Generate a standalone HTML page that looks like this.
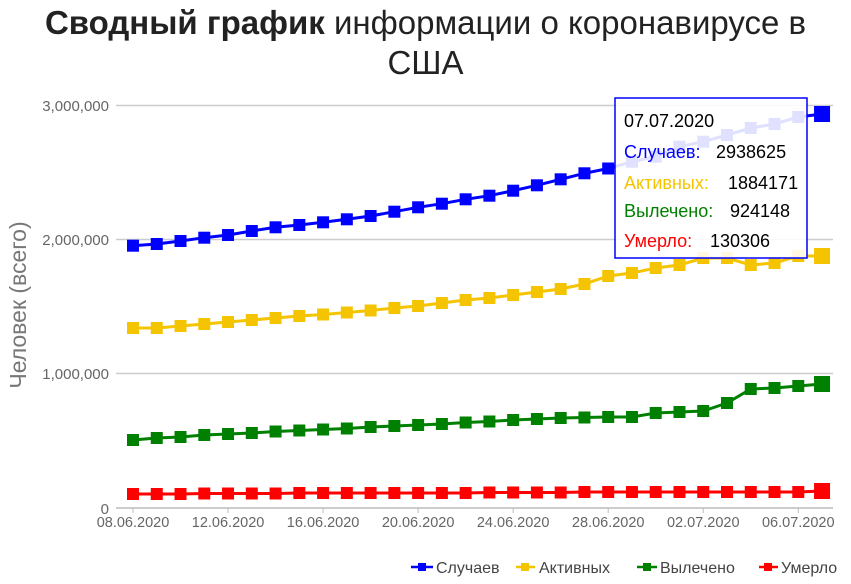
<!DOCTYPE html>
<html><head><meta charset="utf-8"><style>
body{margin:0;background:#fff;width:851px;height:579px;overflow:hidden;font-family:"Liberation Sans","DejaVu Sans",sans-serif}
</style></head><body>
<svg width="851" height="579" xmlns="http://www.w3.org/2000/svg" font-family="Liberation Sans, DejaVu Sans, sans-serif">
<text x="425.5" y="34" text-anchor="middle" font-size="33" fill="#222"><tspan font-weight="bold">Сводный график</tspan> информации о коронавирусе в</text>
<text x="425.5" y="74" text-anchor="middle" font-size="33" fill="#222">США</text>
<g stroke="#ccc" stroke-width="1.5">
<line x1="116" y1="105.5" x2="833" y2="105.5"/>
<line x1="116" y1="239.5" x2="833" y2="239.5"/>
<line x1="116" y1="373.5" x2="833" y2="373.5"/>
<line x1="116" y1="508" x2="833" y2="508" stroke="#bbb"/>
</g>
<g font-size="15" fill="#666" text-anchor="end">
<text x="109" y="111">3,000,000</text>
<text x="109" y="245">2,000,000</text>
<text x="109" y="379">1,000,000</text>
<text x="109" y="514">0</text>
</g>
<text transform="translate(26,305) rotate(-90)" text-anchor="middle" font-size="23" fill="#777">Человек (всего)</text>
<g id="xt" font-size="14.5" fill="#666" text-anchor="middle"></g>
<g id="series"></g>
<g id="tip">
<rect x="615" y="98" width="192" height="160" fill="#fff" fill-opacity="0.88" stroke="#00f" stroke-width="1.5"/>
<g font-size="18">
<text x="624" y="127" fill="#000">07.07.2020</text>
<text x="624" y="158" fill="#00f">Случаев:</text><text x="716" y="158" fill="#000">2938625</text>
<text x="624" y="189" fill="#f5c400">Активных:</text><text x="728" y="189" fill="#000">1884171</text>
<text x="624" y="217" fill="#008000">Вылечено:</text><text x="730" y="217" fill="#000">924148</text>
<text x="624" y="247" fill="#f00">Умерло:</text><text x="710" y="247" fill="#000">130306</text>
</g></g>
<g font-size="16" fill="#444">
<line x1="411" y1="567" x2="433" y2="567" stroke="#00f" stroke-width="2.5"/><rect x="418" y="563" width="8" height="8" fill="#00f"/><text x="436" y="573">Случаев</text>
<line x1="516" y1="567" x2="535" y2="567" stroke="#f5c400" stroke-width="2.5"/><rect x="521" y="563" width="8" height="8" fill="#f5c400"/><text x="539" y="573">Активных</text>
<line x1="637" y1="567" x2="657" y2="567" stroke="#008000" stroke-width="2.5"/><rect x="643" y="563" width="8" height="8" fill="#008000"/><text x="660" y="573">Вылечено</text>
<line x1="759" y1="567" x2="778" y2="567" stroke="#f00" stroke-width="2.5"/><rect x="764" y="563" width="8" height="8" fill="#f00"/><text x="781" y="573">Умерло</text>
</g>
</svg>
<script>
var NS="http://www.w3.org/2000/svg";
function X(i){return 133+i*23.76;}
var xt=document.getElementById("xt");
var labs=["08.06.2020","12.06.2020","16.06.2020","20.06.2020","24.06.2020","28.06.2020","02.07.2020","06.07.2020"];
for(var k=0;k<8;k++){var x=X(k*4);
var l=document.createElementNS(NS,"line");l.setAttribute("x1",x);l.setAttribute("x2",x);l.setAttribute("y1",508);l.setAttribute("y2",513);l.setAttribute("stroke","#bbb");xt.appendChild(l);
var t=document.createElementNS(NS,"text");t.setAttribute("x",x);t.setAttribute("y",527);t.textContent=labs[k];xt.appendChild(t);}
var S=[
["#00f",[245.7,244,241,237.7,235,231,227.3,225,222.3,219.3,216,211.7,207.3,203.7,199.3,195.7,190.7,185.3,179.3,173.3,168.5,161.7,156.7,146.7,141.7,135,128,124,117,114]],
["#f5c400",[328,328,326,324,322,320,318,316,314.5,312.5,310.5,308,306,303,300,298,295,292,289,284,276,273,268,265,258,258,265,263,256,256]],
["#008000",[440,438,437,435,434,433,431.5,430.5,429.5,428.5,427,426,425,424,422.5,421.5,420,419,418,417.5,417,417,413,412,411,403,389,388,386,384]],
["#f00",[494,494,494,493.5,493.5,493.5,493.5,493,493,493,493,493,493,493,493,492.5,492.5,492.5,492.5,492,492,492,492,492,492,492,492,492,492,491]]];
var g=document.getElementById("series");
S.forEach(function(s){var p="";s[1].forEach(function(y,i){p+=(i?"L":"M")+X(i)+" "+y;});
var pa=document.createElementNS(NS,"path");pa.setAttribute("d",p);pa.setAttribute("fill","none");pa.setAttribute("stroke",s[0]);pa.setAttribute("stroke-width","3");g.appendChild(pa);
s[1].forEach(function(y,i){var r=document.createElementNS(NS,"rect");var w=(i==29)?16:12;r.setAttribute("x",X(i)-w/2);r.setAttribute("y",y-w/2);r.setAttribute("width",w);r.setAttribute("height",w);r.setAttribute("fill",s[0]);g.appendChild(r);});});
</script>
</body></html>
